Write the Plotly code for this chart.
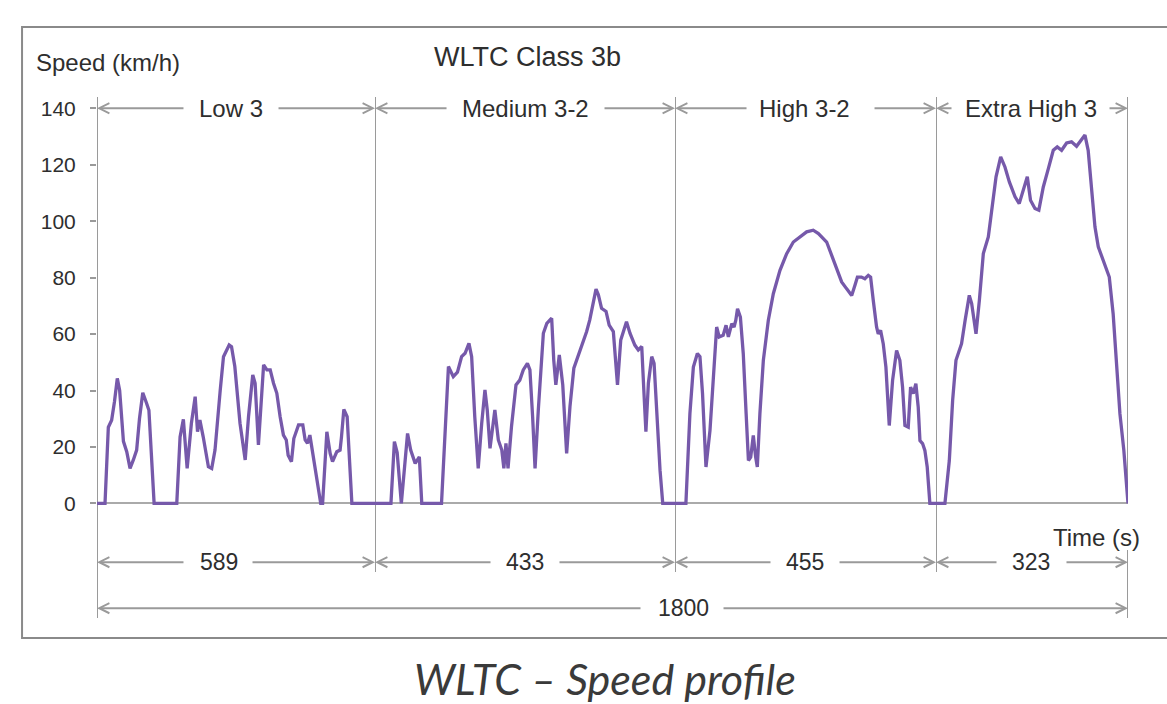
import numpy as np
import plotly.graph_objects as go

# ---------------------------------------------------------------------------
# WLTC Class 3b speed trace, one array pair per phase (time in s, speed in km/h)
# ---------------------------------------------------------------------------
phase_names = ["Low 3", "Medium 3-2", "High 3-2", "Extra High 3"]
phase_durations = [589, 433, 455, 323]
total_duration = 1800

low_t = [0, 17, 24, 31, 37, 43, 48, 56, 63, 70, 77, 84, 90, 97, 105, 110, 115, 121,
         169, 176, 183, 191, 200, 208, 213, 218, 225, 236, 243, 250, 261, 268, 280,
         285, 292, 303, 314, 321, 330, 335, 342, 347, 353, 360, 367, 374, 381, 388,
         395, 401, 405, 412, 417, 427, 436, 441, 446, 451, 456, 462, 469, 474, 478,
         487, 494, 499, 508, 515, 518, 523, 530, 540, 589]
low_v = [0, 0, 27, 29.5, 36, 44.3, 40, 22, 18.3, 12.4, 15.4, 18.9, 30, 39.2, 35.5, 33, 18, 0,
         0, 23.6, 29.8, 12.4, 28.4, 37.8, 25.4, 29.5, 23.6, 13, 12.4, 18.9, 40, 52, 56.1,
         55.5, 48.5, 28.4, 15.4, 30.7, 45.5, 42.6, 20.7, 34.3, 49.1, 47.3, 47.3, 42.6, 39, 30.7,
         24.2, 22.5, 17.1, 14.8, 23, 27.8, 27.8, 22.5, 21.3, 24.2, 18.9, 11.8, 3.5, 0, 0,
         25.4, 17.7, 14.8, 18.3, 18.9, 23.6, 33.3, 30.7, 0, 0]

medium_t = [589, 612, 617, 621, 627, 636, 640.5, 647, 653, 656.5, 685, 695, 702, 708, 714,
            719, 724.6, 728.5, 733, 738, 743, 747.7, 751, 755, 762, 767, 772, 775, 778,
            781, 786, 792.5, 798, 803, 809, 812.6, 816.5, 820, 824.7, 832, 837, 844, 847,
            850, 855, 860, 865.6, 870.4, 876, 882, 887, 894.5, 899, 903, 908, 911.4, 916,
            922.5, 927, 933, 939, 943.7, 952, 957, 964, 969, 974, 977, 980, 983.6, 988.4,
            991.8, 995.6, 1000.4, 1004.3, 1022]
medium_v = [0, 0, 21.9, 18, 0, 24.8, 18.9, 14.2, 16.5, 0, 0, 48.5, 44.9, 46.5, 52,
            53.2, 56.7, 52, 30.7, 12.4, 28.4, 40.2, 33.1, 19.5, 33.1, 22.5, 18.9, 12.4, 21.3,
            12.4, 27.2, 42, 43.7, 47.3, 49.6, 47.3, 30.7, 12.4, 33.1, 60.3, 63.8, 65.6, 50.8,
            42, 52.6, 42, 17.7, 34.3, 47.9, 52, 56.1, 60.9, 65, 70.3, 75.9, 73.9, 69.1,
            68, 63.2, 60.9, 42, 57.9, 64.4, 60.3, 56.1, 54.4, 55.6, 40.2, 25.4, 42.6, 52,
            49.6, 30.7, 11.8, 0, 0]

high_t = [1022, 1041, 1048, 1054, 1061, 1065.5, 1070, 1076, 1083, 1089, 1094.6, 1099, 1106,
          1111, 1115, 1121, 1125, 1128, 1131, 1136, 1141, 1146, 1150, 1154, 1158.5, 1162.6,
          1165.5, 1170, 1176, 1184.7, 1193.4, 1205, 1216.7, 1228.3, 1240, 1251.5, 1263, 1272,
          1286.4, 1295, 1304, 1312.5, 1321, 1330, 1335.7, 1340, 1347, 1353, 1359, 1363,
          1367.6, 1373.4, 1376.3, 1380.4, 1385, 1389.7, 1395.5, 1401.3, 1408.3, 1414, 1418.7,
          1422.8, 1428.6, 1432.7, 1437.3, 1441.9, 1446, 1449, 1453.6, 1457.6, 1461.7, 1466.3,
          1477]
high_v = [0, 0, 31.8, 48.3, 53.1, 52, 38.9, 12.9, 25.9, 43.6, 62.5, 59, 59.6,
          63.1, 59, 63.7, 62.5, 64.9, 69, 66, 53.1, 31.8, 15.2, 16.4, 24.1, 16.4,
          12.9, 31.8, 50.7, 64.9, 74.3, 82.6, 88.5, 92.6, 94.4, 96.2, 96.8, 95.6,
          92.6, 87.9, 82.6, 78.5, 76.1, 73.7, 77.3, 80.2, 80.2, 79.6, 80.8, 80.2,
          72, 62.5, 60.1, 61.3, 56.6, 48.3, 27.6, 43.6, 54.2, 50.7, 41.2,
          27.6, 27, 41.2, 38.9, 42.4, 34.1, 22.3, 21.2, 18.8, 12.9, 0,
          0]

extra_t = [1477, 1492, 1499.4, 1505, 1510.6, 1520, 1526, 1533, 1537, 1544.3, 1550, 1556.6,
           1565, 1570.7, 1578, 1585.8, 1593, 1600.4, 1610, 1617, 1625, 1630.6, 1636, 1643.5,
           1650, 1657.5, 1666, 1674.3, 1681, 1688.3, 1696.7, 1705, 1713.5, 1722, 1727.6,
           1733, 1738.8, 1744.4, 1750, 1758.4, 1768.5, 1775, 1781, 1786.4, 1793, 1798.7, 1800]
extra_v = [0, 0, 15.2, 36.5, 50.7, 56.6, 64.9, 73.7, 70.8, 60.1, 72, 88.5,
           94.4, 103.9, 115.7, 122.8, 119.2, 113.9, 108.6, 106.2, 111.5, 115.7, 107.4, 104.5,
           103.9, 112.1, 118.6, 125.1, 126.3, 125.1, 127.7, 128.1, 126.5, 128.7, 130.5,
           125.1, 109.8, 98, 90.9, 86.1, 80.2, 67.2, 48.3, 31.8, 18.8, 0.5, 0]

y_ticks = [0, 20, 40, 60, 80, 100, 120, 140]

# ---------------------------------------------------------------------------
# Styling
# ---------------------------------------------------------------------------
TRACE = "#7659AA"
GRAY = "#9A9A9A"
TEXT = "#2E2E2E"
FONT = "Liberation Sans, Arial, sans-serif"

bounds = np.concatenate([[0], np.cumsum(phase_durations)]).tolist()
xrefs = ["x", "x2", "x3", "x4"]

# each phase gets its own horizontal panel; relative panel widths
panel_widths = [278, 300, 261, 192]
edges = np.concatenate([[0], np.cumsum(panel_widths)]) / sum(panel_widths)

phase_t = [low_t, medium_t, high_t, extra_t]
phase_v = [low_v, medium_v, high_v, extra_v]

fig = go.Figure()
for i in range(4):
    fig.add_trace(go.Scatter(
        x=phase_t[i], y=phase_v[i], mode="lines", xaxis=xrefs[i], yaxis="y",
        line=dict(color=TRACE, width=3.3), hoverinfo="skip", showlegend=False,
    ))

layout_axes = {}
for i in range(4):
    key = "xaxis" if i == 0 else f"xaxis{i + 1}"
    layout_axes[key] = dict(domain=[float(edges[i]), float(edges[i + 1])],
                            range=[bounds[i], bounds[i + 1]], visible=False,
                            anchor="y", fixedrange=True)

Y_RANGE = [-42, 150]

fig.update_layout(
    width=1167, height=704,
    margin=dict(l=97, r=39, t=80, b=82),
    paper_bgcolor="white", plot_bgcolor="white",
    showlegend=False,
    yaxis=dict(range=Y_RANGE, tickvals=y_ticks, ticks="outside", ticklen=6,
               tickwidth=2, tickcolor=GRAY, showline=False, showgrid=False,
               zeroline=True, zerolinecolor="#AAAAAA", zerolinewidth=2,
               tickfont=dict(family=FONT, size=21, color=TEXT),
               ticklabelstandoff=10, anchor="x", fixedrange=True),
    yaxis2=dict(range=Y_RANGE, tickvals=y_ticks, ticks="inside", ticklen=6,
                tickwidth=2, tickcolor=GRAY, showticklabels=False, showline=False,
                showgrid=False, zeroline=False, overlaying="y", anchor="x",
                side="left", fixedrange=True),
    **layout_axes,
)

shapes = []
LINE = dict(color=GRAY, width=2)
TOP = 144
# left frame line of the time axis
shapes.append(dict(type="line", xref="x", yref="y", x0=0, x1=0, y0=-40.6, y1=TOP,
                   line=LINE, layer="below"))
# phase boundaries
for i in range(1, 4):
    shapes.append(dict(type="line", xref=xrefs[i], yref="y", x0=bounds[i], x1=bounds[i],
                       y0=-24.3, y1=TOP, line=LINE, layer="below"))
# end of cycle (interrupted by the time label)
shapes.append(dict(type="line", xref="x4", yref="y", x0=total_duration, x1=total_duration,
                   y0=0, y1=TOP, line=LINE, layer="below"))
shapes.append(dict(type="line", xref="x4", yref="y", x0=total_duration, x1=total_duration,
                   y0=-40.6, y1=-16.5, line=LINE, layer="below"))
# outer frame
shapes.append(dict(type="rect", xref="paper", yref="paper", x0=-0.0727, x1=1.06,
                   y0=-0.0295, y1=1.0978, line=dict(color="#8A8A8A", width=2),
                   fillcolor="rgba(0,0,0,0)", layer="below"))
fig.update_layout(shapes=shapes)

annotations = []


def dim_arrow(xref, head, tail, y):
    return dict(xref=xref, yref="y", x=head, y=y, axref=xref, ayref="y", ax=tail, ay=y,
                text="", showarrow=True, arrowhead=5, arrowsize=1, arrowwidth=2,
                arrowcolor=GRAY, standoff=0, startstandoff=0)


def label(xref, x, y, text, size=23):
    return dict(xref=xref, yref="y", x=x, y=y, text=text, showarrow=False,
                xanchor="center", yanchor="middle",
                font=dict(family=FONT, size=size, color=TEXT))


# phase names row
ROW_A = 140
name_x = [283.9, 805.5, 1248.6, 1636.8]
name_gaps = [(186.4, 381.4), (694.4, 918.1), (1149.3, 1367.2), (1505.6, 1766.4)]
for i in range(4):
    annotations.append(label(xrefs[i], name_x[i], ROW_A, phase_names[i], 24))
    annotations.append(dim_arrow(xrefs[i], bounds[i], name_gaps[i][0], ROW_A))
    annotations.append(dim_arrow(xrefs[i], bounds[i + 1], name_gaps[i][1], ROW_A))

# phase durations row
ROW_B = -20.8
dur_x = [258.5, 805.5, 1248.6, 1636.8]
dur_gaps = [(186.4, 326.3), (757.9, 853.1), (1191.1, 1306.2), (1581.3, 1694.0)]
for i in range(4):
    annotations.append(label(xrefs[i], dur_x[i], ROW_B, str(phase_durations[i]), 23))
    annotations.append(dim_arrow(xrefs[i], bounds[i], dur_gaps[i][0], ROW_B))
    annotations.append(dim_arrow(xrefs[i], bounds[i + 1], dur_gaps[i][1], ROW_B))

# total duration row
ROW_C = -37.1
annotations.append(label("x3", 1036.0, ROW_C, str(total_duration), 23))
annotations.append(dim_arrow("x", 0, 1154.7, ROW_C))
annotations.append(dim_arrow("x4", total_duration, 1117.0, ROW_C))

# axis captions
annotations.append(dict(xref="x4", yref="y", x=1747.8, y=-11.9, text="Time (s)",
                        showarrow=False, xanchor="center", yanchor="middle",
                        font=dict(family=FONT, size=24, color=TEXT)))
annotations.append(dict(xref="paper", yref="paper", x=-0.0611, y=1.0314,
                        text="Speed (km/h)", showarrow=False, xanchor="left",
                        yanchor="middle", font=dict(family=FONT, size=24, color=TEXT)))
annotations.append(dict(xref="paper", yref="paper", x=0.4175, y=1.0424,
                        text="WLTC Class 3b", showarrow=False, xanchor="center",
                        yanchor="middle", font=dict(family=FONT, size=27, color=TEXT)))
# figure caption under the frame
annotations.append(dict(xref="paper", yref="paper", x=0.4932, y=-0.104,
                        text="WLTC \u2013 Speed profile", showarrow=False,
                        xanchor="center", yanchor="middle",
                        font=dict(family="Lato, Open Sans, sans-serif", size=43,
                                  color="#3A3A3A", style="italic")))

fig.update_layout(annotations=annotations)

fig.write_html("out.html")
